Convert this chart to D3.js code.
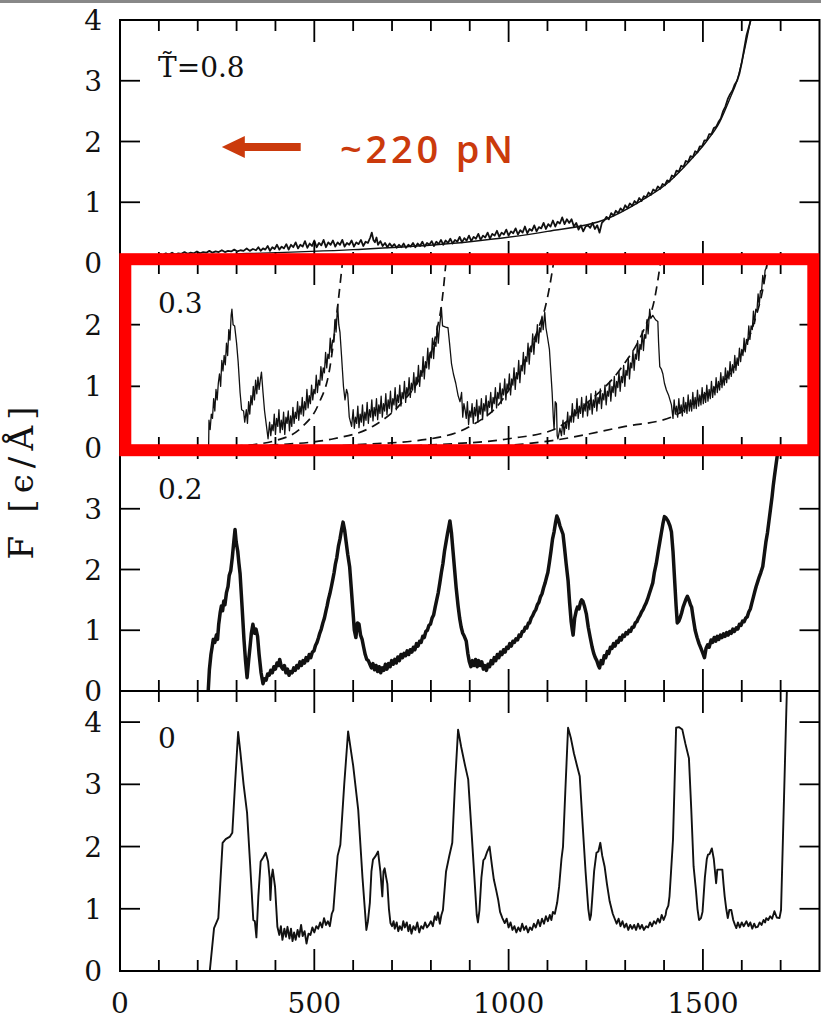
<!DOCTYPE html>
<html>
<head>
<meta charset="utf-8">
<script src="https://d3js.org/d3.v7.min.js"></script>
<style>
  html, body { margin: 0; padding: 0; background: #fff; }
  svg { display: block; }
</style>
</head>
<body>
<div id="chart"></div>
<script>
// ---- dados: x = extensao, v = forca F [eps/A] ----
const xMinorTicks = [100, 200, 300, 400, 600, 700, 800, 900, 1100, 1200, 1300, 1400, 1600, 1700];
const xMajorTicks = [0, 500, 1000, 1500];
const panelLabels = ['T\u0303=0.8', '0.3', '0.2', '0'];
const panelMax = [4, 3, 4, 4.5];
const yTickValues = [[1, 2, 3], [1, 2], [1, 2, 3], [1, 2, 3, 4]];
const yTickLabels = [[0, 1, 2, 3, 4], [0, 1, 2], [0, 1, 2, 3], [0, 1, 2, 3, 4]];

// T = 0.8 (ruidoso + ajuste suave)
const force08 = [[103,0.15],[110,0.13],[118,0.16],[126,0.14],[134,0.17],[142,0.14],[150,0.16],[158,0.15],[166,0.18],[174,0.15],[182,0.17],[190,0.16],[198,0.19],[206,0.16],[214,0.18],[222,0.17],[230,0.2],[238,0.17],[246,0.19],[254,0.18],[262,0.21],[270,0.18],[278,0.2],[286,0.19],[294,0.22],[302,0.19],[310,0.21],[318,0.2],[326,0.24],[334,0.2],[342,0.23],[350,0.21],[356,0.26],[362,0.2],[368,0.24],[374,0.22],[380,0.28],[386,0.2],[392,0.26],[398,0.23],[404,0.3],[410,0.22],[416,0.27],[422,0.24],[428,0.31],[434,0.22],[440,0.3],[446,0.26],[452,0.34],[458,0.24],[464,0.3],[470,0.27],[476,0.36],[482,0.25],[488,0.32],[494,0.28],[500,0.37],[506,0.26],[512,0.33],[518,0.29],[524,0.38],[530,0.26],[536,0.34],[542,0.3],[548,0.37],[554,0.27],[560,0.34],[566,0.3],[572,0.38],[578,0.27],[584,0.33],[590,0.3],[596,0.37],[602,0.27],[608,0.34],[614,0.31],[620,0.38],[626,0.28],[632,0.35],[638,0.33],[644,0.42],[648,0.5],[652,0.38],[656,0.34],[660,0.42],[664,0.3],[670,0.36],[676,0.28],[682,0.33],[688,0.26],[694,0.32],[700,0.27],[706,0.31],[712,0.25],[718,0.3],[724,0.26],[730,0.32],[736,0.25],[742,0.3],[748,0.27],[754,0.33],[760,0.26],[766,0.32],[772,0.28],[778,0.35],[784,0.27],[790,0.33],[796,0.3],[802,0.36],[808,0.28],[814,0.35],[820,0.31],[826,0.38],[832,0.3],[838,0.37],[844,0.33],[850,0.4],[856,0.32],[862,0.38],[868,0.35],[874,0.43],[880,0.34],[886,0.41],[892,0.37],[898,0.45],[904,0.36],[910,0.43],[916,0.4],[922,0.48],[928,0.38],[934,0.45],[940,0.42],[946,0.5],[952,0.4],[958,0.48],[964,0.45],[970,0.53],[976,0.43],[982,0.5],[988,0.47],[994,0.55],[1000,0.45],[1006,0.52],[1012,0.49],[1018,0.57],[1024,0.47],[1030,0.54],[1036,0.5],[1042,0.6],[1048,0.49],[1054,0.56],[1060,0.53],[1066,0.62],[1072,0.52],[1078,0.59],[1084,0.57],[1090,0.66],[1096,0.56],[1102,0.64],[1108,0.6],[1114,0.7],[1120,0.6],[1126,0.68],[1132,0.65],[1138,0.75],[1144,0.64],[1150,0.72],[1156,0.66],[1162,0.72],[1168,0.6],[1174,0.66],[1180,0.55],[1186,0.62],[1192,0.52],[1198,0.6],
  [1204,0.62],[1210,0.58],[1216,0.66],[1222,0.56],[1228,0.62],[1234,0.5],[1240,0.66],[1246,0.7],[1252,0.76],[1258,0.72],[1264,0.82],[1270,0.78],[1276,0.86],[1282,0.82],[1288,0.9],[1294,0.86],[1300,0.95],[1306,0.9],[1312,0.98],[1318,0.94],[1324,1.02],[1330,0.98],[1336,1.07],[1342,1.02],[1348,1.1],[1354,1.08],[1360,1.16],[1366,1.12],[1372,1.21],[1378,1.18],[1384,1.26],[1390,1.22],[1396,1.3],[1402,1.28],[1408,1.36],[1414,1.34],[1420,1.44],[1426,1.42],[1432,1.52],[1438,1.5],[1444,1.6],[1450,1.58],[1456,1.68],[1462,1.66],[1468,1.76],[1474,1.74],[1480,1.84],[1486,1.82],[1492,1.92],[1498,1.92],[1504,2.02],[1510,2.02],[1516,2.12],[1522,2.12],[1528,2.22],[1534,2.24],[1540,2.32],[1546,2.38],[1552,2.5],[1558,2.58],[1564,2.7],[1570,2.78],[1576,2.84],[1582,2.94],[1588,3.0],[1594,3.12],[1600,3.3],[1606,3.52],[1612,3.74],[1618,3.88],[1624,4.02],[1630,4.2]];
const fit08 = [[300,0.15],[600,0.22],[900,0.35],[1100,0.52],[1250,0.72],[1340,1.02],[1406,1.3],[1466,1.68],[1509,2.0],[1543,2.32],[1569,2.7],[1590,3.05],[1605,3.45],[1618,3.85],[1626,4.1]];

// T = 0.3 (ruidoso + ajustes WLC tracejados)
const force03 = [[228,0],[229,0.45],[232,0.3],[235,0.55],[238,0.48],[241,0.8],[244,0.6],[247,0.95],[250,0.78],[253,1.05],[256,1.2],[259,1.0],[262,1.42],[265,1.25],[268,1.5],[271,1.35],[274,1.7],[277,1.5],[280,1.92],[283,1.75],[286,2.15],[288,2.25],[291,2.0],[295,1.98],
  [300,1.7],[304,1.4],[309,0.9],[313,0.62],[318,0.6],[321,0.42],
  [325,0.62],[328,0.4],[331,0.75],[334,0.55],[337,0.85],[340,0.7],[343,1.0],[346,0.78],[349,1.1],[352,0.88],[355,1.15],[358,0.95],[361,1.1],[364,1.23],[368,0.9],[372,0.6],[377,0.35],[381,0.15],
  [385,0.42],[388,0.2],[391,0.38],[394,0.28],[397,0.55],[400,0.22],[403,0.48],[406,0.35],[409,0.62],[412,0.25],[415,0.45],[418,0.3],[421,0.58],[424,0.22],[427,0.5],[430,0.4],[433,0.6],[436,0.28],[439,0.52],[442,0.35],[445,0.66],[448,0.4],[451,0.58],[454,0.48],[457,0.75],[460,0.45],[463,0.68],[466,0.55],[469,0.82],[472,0.52],[475,0.75],[478,0.62],[481,0.95],[484,0.65],[487,0.85],[490,0.72],[493,1.02],[496,0.78],[499,0.95],[502,0.88],[505,1.18],[508,0.9],[511,1.1],[514,1.02],[517,1.32],[520,1.1],[523,1.3],[526,1.22],[529,1.55],[532,1.3],[535,1.52],[538,1.45],[541,1.78],[544,1.55],[547,1.75],[550,1.72],[553,2.08],[556,1.88],[560,2.32],
  [563,2.0],[566,1.88],[570,1.5],[575,1.0],[579,0.78],[583,0.95],[586,0.88],[590,0.5],[596,0.35],
  [600,0.62],[603,0.32],[606,0.5],[609,0.4],[612,0.68],[615,0.33],[618,0.55],[621,0.42],[624,0.7],[627,0.36],[630,0.58],[633,0.45],[636,0.74],[639,0.4],[642,0.62],[645,0.5],[648,0.78],[651,0.44],[654,0.66],[657,0.52],[660,0.8],[663,0.46],[666,0.7],[669,0.56],[672,0.84],[675,0.5],[678,0.72],[681,0.6],[684,0.88],[687,0.54],[690,0.78],[693,0.64],[696,0.92],[699,0.58],[702,0.8],[705,0.7],[708,0.98],[711,0.62],[714,0.86],[717,0.74],[720,1.02],[723,0.68],[726,0.9],[729,0.8],[732,1.08],[735,0.74],[738,0.98],[741,0.86],[744,1.14],[747,0.82],[750,1.05],[753,0.94],[756,1.22],[759,0.9],[762,1.15],[765,1.04],[768,1.34],[771,1.0],[774,1.26],[777,1.16],[780,1.48],[783,1.12],[786,1.4],[789,1.3],[792,1.62],[795,1.28],[798,1.55],[801,1.46],[804,1.78],[807,1.45],[810,1.72],[813,1.65],[816,1.98],[819,1.7],[822,1.95],[825,2.12],[827,2.28],
  [830,1.98],[838,1.96],[844,1.95],[848,1.7],[853,1.37],[858,1.2],[864,1.05],[870,0.85],[875,0.75],
  [879,0.9],[882,0.5],[885,0.72],[888,0.62],[891,0.48],[894,0.75],[897,0.38],[900,0.6],[903,0.5],[906,0.72],[909,0.4],[912,0.66],[915,0.52],[918,0.78],[921,0.42],[924,0.68],[927,0.55],[930,0.8],[933,0.46],[936,0.72],[939,0.6],[942,0.85],[945,0.52],[948,0.76],[951,0.66],[954,0.9],[957,0.58],[960,0.82],[963,0.72],[966,0.98],[969,0.65],[972,0.9],[975,0.8],[978,1.05],[981,0.72],[984,0.96],[987,0.86],[990,1.12],[993,0.78],[996,1.04],[999,0.94],[1002,1.2],[1005,0.86],[1008,1.12],[1011,1.02],[1014,1.3],[1017,0.95],[1020,1.22],[1023,1.12],[1026,1.42],[1029,1.06],[1032,1.34],[1035,1.25],[1038,1.55],[1041,1.2],[1044,1.48],[1047,1.4],[1050,1.7],[1053,1.36],[1056,1.64],[1059,1.56],[1062,1.85],[1065,1.52],[1068,1.8],[1071,1.72],[1074,2.0],[1077,1.7],[1080,1.95],[1083,1.88],[1086,2.14],[1089,1.92],[1093,2.2],
  [1096,1.95],[1100,1.8],[1105,1.6],[1109,1.2],[1112,0.9],[1115,0.5],[1117,0.3],[1120,0.75],[1123,0.72],[1125,0.2],[1127,0.15],[1132,0.32],[1136,0.2],
  [1140,0.45],[1143,0.22],[1146,0.4],[1149,0.32],[1152,0.58],[1155,0.3],[1158,0.52],[1161,0.42],[1164,0.72],[1167,0.42],[1170,0.62],[1173,0.52],[1176,0.8],[1179,0.48],[1182,0.68],[1185,0.56],[1188,0.82],[1191,0.5],[1194,0.72],[1197,0.6],[1200,0.84],[1203,0.52],[1206,0.74],[1209,0.62],[1212,0.88],[1215,0.55],[1218,0.78],[1221,0.66],[1224,0.92],[1227,0.6],[1230,0.82],[1233,0.72],[1236,0.96],[1239,0.64],[1242,0.88],[1245,0.78],[1248,1.02],[1251,0.7],[1254,0.92],[1257,0.84],[1260,1.08],[1263,0.76],[1266,1.0],[1269,0.9],[1272,1.16],[1275,0.84],[1278,1.08],[1281,0.98],[1284,1.24],[1287,0.92],[1290,1.16],[1293,1.06],[1296,1.34],[1299,1.0],[1302,1.26],[1305,1.18],[1308,1.46],[1311,1.12],[1314,1.38],[1317,1.3],[1320,1.58],[1323,1.26],[1326,1.52],[1329,1.44],[1332,1.74],[1335,1.42],[1338,1.68],[1341,1.6],[1344,1.9],[1347,1.58],[1350,1.84],[1353,1.78],[1356,2.08],[1359,1.85],[1363,2.25],
  [1366,2.1],[1371,2.15],[1378,2.08],[1384,2.05],[1386,1.7],[1389,1.32],[1393,1.28],[1397,1.2],[1401,1.05],[1406,0.94],[1412,0.85],[1419,0.7],
  [1423,0.48],[1426,0.78],[1429,0.55],[1432,0.68],[1435,0.5],[1438,0.8],[1441,0.56],[1444,0.7],[1447,0.52],[1450,0.82],[1453,0.58],[1456,0.74],[1459,0.56],[1462,0.86],[1465,0.6],[1468,0.78],[1471,0.6],[1474,0.9],[1477,0.64],[1480,0.82],[1483,0.64],[1486,0.94],[1489,0.68],[1492,0.86],[1495,0.7],[1498,0.98],[1501,0.72],[1504,0.9],[1507,0.74],[1510,1.02],[1513,0.76],[1516,0.95],[1519,0.8],[1522,1.08],[1525,0.82],[1528,1.0],[1531,0.86],[1534,1.14],[1537,0.9],[1540,1.08],[1543,0.94],[1546,1.22],[1549,0.98],[1552,1.16],[1555,1.02],[1558,1.3],[1561,1.06],[1564,1.25],[1567,1.12],[1570,1.4],[1573,1.16],[1576,1.35],[1579,1.22],[1582,1.5],[1585,1.26],[1588,1.46],[1591,1.34],[1594,1.62],[1597,1.4],[1600,1.6],[1603,1.5],[1606,1.78],[1609,1.56],[1612,1.76],[1615,1.68],[1618,1.98],[1621,1.76],[1624,1.98],[1627,1.92],[1630,2.22],[1633,2.02],[1636,2.25],[1639,2.22],[1642,2.5],[1645,2.32],[1648,2.55],[1651,2.55],[1654,2.8],[1657,2.66],[1660,2.88],[1663,2.92],[1666,3.05],[1669,3.2]];
const fit03A = [[215,0],[300,0.03],[400,0.12],[470,0.35],[510,0.7],[540,1.3],[560,2.29],[568,2.75],[574,3.1]];
const fit03B = [[230,0],[400,0.05],[550,0.15],[650,0.35],[720,0.7],[780,1.25],[815,1.9],[829,2.4],[840,3.1]];
const fit03C = [[380,0],[600,0.05],[800,0.15],[900,0.35],[980,0.75],[1040,1.4],[1080,2.0],[1093,2.25],[1105,2.6],[1118,3.1]];
const fit03D = [[600,0],[800,0.05],[1000,0.15],[1117,0.3],[1200,0.72],[1290,1.3],[1350,1.95],[1375,2.4],[1393,3.1]];
const fit03E = [[900,0],[1112,0.12],[1300,0.35],[1419,0.5],[1500,0.85],[1580,1.3],[1630,2.0],[1655,2.6],[1668,3.1]];

// T = 0.2
const force02 = [[227,0],[230,0.35],[234,0.6],[237,0.72],[240,0.85],[244,0.8],[248,0.92],[251,0.85],[254,1.1],[258,1.3],[261,1.4],[264,1.32],[267,1.48],[270,1.42],[274,1.62],[278,1.72],[281,1.9],[285,1.98],[289,2.2],[292,2.4],[296,2.66],[299,2.45],[303,2.3],[306,2.1],[309,1.93],[314,1.4],[319,0.85],[323,0.5],[327,0.22],[331,0.5],[335,0.75],[338,0.95],[342,1.1],[346,0.95],[350,1.02],[354,0.9],[358,0.6],[363,0.3],[368,0.12],[372,0.2],[376,0.18],[380,0.28],[384,0.26],[388,0.34],[392,0.3],[396,0.4],[400,0.36],[404,0.46],[408,0.42],[411,0.52],[415,0.4],[419,0.36],[423,0.42],[427,0.3],[431,0.36],[435,0.26],[439,0.32],[443,0.3],[447,0.38],[451,0.34],[455,0.42],[459,0.38],[463,0.48],[467,0.42],[471,0.5],[475,0.46],[479,0.55],[483,0.5],[487,0.6],[491,0.55],[495,0.64],[499,0.66],[503,0.75],[507,0.8],[511,0.88],[514,0.95],[518,1.02],[522,1.12],[526,1.2],[530,1.32],[533,1.4],[536,1.5],[540,1.6],[544,1.72],[548,1.85],[551,1.95],[554,2.08],[558,2.2],[562,2.38],[566,2.5],[570,2.65],[574,2.78],[578,2.65],[582,2.45],[586,2.25],[591,2.04],[595,1.7],[599,1.35],[603,1.0],[607,0.88],[611,1.12],[615,1.1],[619,0.92],[623,0.85],[627,0.72],[631,0.6],[635,0.52],[639,0.5],[643,0.44],[647,0.38],[651,0.45],[655,0.35],[659,0.42],[663,0.32],[667,0.4],[671,0.3],[675,0.38],[679,0.34],[683,0.44],[687,0.36],[691,0.45],[695,0.4],[699,0.5],[703,0.44],[707,0.52],[711,0.46],[715,0.56],[719,0.5],[723,0.6],[727,0.55],[731,0.62],[735,0.58],[739,0.66],[743,0.6],[747,0.68],[751,0.64],[755,0.72],[759,0.68],[763,0.78],[767,0.74],[771,0.82],[775,0.8],[779,0.9],[783,0.88],[787,0.98],[791,1.0],[795,1.08],[799,1.1],[803,1.2],[807,1.25],[811,1.38],[815,1.5],[819,1.62],[823,1.78],[827,1.95],[831,2.1],[835,2.3],[839,2.45],[843,2.6],[846,2.7],[849,2.8],[853,2.6],[857,2.3],[861,2.0],[865,1.7],[870,1.4],[874,1.2],[878,1.05],[882,0.95],[886,0.9],[891,0.82],[895,0.62],[899,0.48],[903,0.4],[907,0.5],[911,0.42],[915,0.52],[919,0.4],[923,0.5],[927,0.42],[931,0.48],[935,0.36],[939,0.42],[943,0.34],[947,0.44],[951,0.4],[955,0.5],[959,0.45],[963,0.55],[967,0.5],[971,0.6],[975,0.55],[979,0.64],[983,0.6],[987,0.68],[991,0.64],[995,0.72],[999,0.7],[1003,0.78],[1007,0.74],[1011,0.82],[1015,0.8],[1019,0.86],[1023,0.84],[1027,0.92],[1031,0.9],[1035,0.98],[1039,0.98],[1043,1.05],[1047,1.04],[1051,1.12],[1054,1.12],[1058,1.2],[1062,1.24],[1066,1.3],[1070,1.34],[1074,1.42],[1078,1.46],[1082,1.55],[1086,1.6],[1090,1.7],[1094,1.78],[1098,1.88],[1101,1.95],[1105,2.12],[1109,2.3],[1113,2.5],[1117,2.62],[1121,2.78],[1124,2.88],[1128,2.82],[1132,2.72],[1136,2.65],[1140,2.58],[1144,2.35],[1148,2.1],[1153,1.82],[1157,1.45],[1161,1.14],[1164,1.0],[1166,0.92],[1170,1.2],[1174,1.32],[1177,1.38],[1181,1.35],[1185,1.46],[1188,1.5],[1191,1.48],[1195,1.4],[1200,1.27],[1205,1.05],[1210,0.88],[1215,0.72],[1219,0.62],[1223,0.55],[1227,0.5],[1231,0.42],[1234,0.38],[1238,0.5],[1242,0.45],[1246,0.58],[1250,0.55],[1254,0.65],[1258,0.62],[1262,0.72],[1266,0.7],[1270,0.78],[1274,0.74],[1278,0.82],[1282,0.8],[1286,0.88],[1290,0.84],[1294,0.92],[1298,0.9],[1302,0.96],[1306,0.94],[1310,1.0],[1314,0.98],[1318,1.05],[1322,1.05],[1326,1.12],[1330,1.14],[1334,1.2],[1338,1.24],[1342,1.3],[1346,1.34],[1350,1.4],[1354,1.45],[1358,1.52],[1362,1.6],[1366,1.68],[1371,1.78],[1375,1.95],[1380,2.1],[1385,2.3],[1389,2.45],[1393,2.6],[1397,2.75],[1401,2.87],[1405,2.85],[1410,2.8],[1415,2.72],[1419,2.62],[1423,2.3],[1427,1.85],[1431,1.4],[1434,1.12],[1438,1.15],[1441,1.2],[1445,1.28],[1449,1.38],[1453,1.45],[1457,1.52],[1460,1.56],[1464,1.5],[1468,1.42],[1471,1.38],[1475,1.2],[1480,1.0],[1485,0.88],[1490,0.78],[1495,0.7],[1500,0.62],[1504,0.55],[1508,0.7],[1512,0.76],[1516,0.72],[1521,0.84],[1525,0.8],[1529,0.88],[1533,0.82],[1537,0.9],[1541,0.85],[1545,0.92],[1549,0.88],[1553,0.94],[1557,0.9],[1561,0.96],[1565,0.92],[1569,0.98],[1573,0.95],[1577,1.02],[1581,0.98],[1586,1.04],[1590,1.02],[1594,1.1],[1598,1.08],[1602,1.15],[1606,1.14],[1610,1.2],[1614,1.22],[1618,1.3],[1622,1.35],[1626,1.45],[1630,1.55],[1634,1.65],[1637,1.72],[1641,1.8],[1645,1.88],[1649,1.95],[1654,2.05],[1658,2.25],[1662,2.45],[1666,2.6],[1670,2.8],[1674,3.0],[1678,3.2],[1681,3.38],[1684,3.53],[1688,3.72],[1691,3.86],[1694,4.0],[1697,4.2]];

// T = 0
const force00 = [[231,0],[242,0.69],[253,0.85],[258,1.4],[264,2.06],[272,2.12],[283,2.16],[289,2.22],[296,3.0],[304,3.84],[310,3.5],[318,3.0],[327,2.54],[335,1.7],[343,0.82],[347,0.8],[351,0.54],[356,1.2],[362,1.76],[368,1.82],[375,1.9],[381,1.76],[385,1.5],[387,1.14],[390,1.5],[393,1.63],[399,1.35],[405,0.71],[410,0.58],[414,0.72],[418,0.5],[423,0.68],[427,0.55],[431,0.71],[436,0.52],[440,0.68],[444,0.48],[448,0.62],[452,0.5],[457,0.66],[461,0.55],[466,0.74],[470,0.56],[475,0.64],[480,0.44],[485,0.6],[490,0.58],[495,0.7],[500,0.62],[505,0.72],[510,0.68],[515,0.78],[520,0.7],[525,0.85],[530,0.74],[535,0.8],[540,0.72],[545,0.92],[549,0.98],[555,1.47],[560,1.85],[567,2.03],[577,3.0],[587,3.85],[600,3.3],[613,2.59],[624,1.5],[634,0.66],[638,0.8],[643,1.1],[647,1.6],[651,1.79],[658,1.85],[664,1.92],[670,1.6],[675,1.2],[678,1.6],[681,1.65],[685,1.5],[688,1.4],[692,1.0],[696,0.77],[700,0.72],[704,0.8],[707,0.68],[712,0.78],[716,0.64],[720,0.72],[725,0.66],[729,0.8],[733,0.7],[738,0.78],[742,0.64],[746,0.74],[750,0.6],[755,0.72],[760,0.66],[765,0.78],[770,0.62],[775,0.72],[780,0.68],[785,0.78],[790,0.7],[795,0.74],[800,0.8],[805,0.72],[810,0.88],[814,0.82],[818,0.94],[823,0.76],[827,0.9],[831,0.98],[839,1.6],[847,1.84],[855,2.06],[862,3.0],[870,3.88],[878,3.6],[888,3.3],[896,3.08],[905,2.2],[913,1.4],[918,0.9],[921,0.78],[925,0.98],[930,1.5],[935,1.78],[939,1.81],[945,1.92],[951,2.0],[957,1.7],[962,1.47],[968,1.3],[973,1.15],[978,0.95],[984,0.85],[990,0.77],[995,0.84],[1000,0.7],[1005,0.78],[1010,0.66],[1015,0.72],[1020,0.62],[1025,0.7],[1030,0.64],[1035,0.76],[1040,0.66],[1045,0.72],[1050,0.62],[1055,0.7],[1060,0.66],[1065,0.76],[1070,0.7],[1076,0.82],[1081,0.72],[1086,0.84],[1091,0.76],[1096,0.88],[1101,0.8],[1106,0.9],[1110,0.82],[1114,0.95],[1119,0.92],[1125,1.1],[1130,1.36],[1136,1.8],[1140,2.0],[1146,2.9],[1153,3.91],[1160,3.75],[1168,3.5],[1176,3.3],[1183,3.13],[1190,2.4],[1198,1.6],[1205,1.0],[1209,0.82],[1212,0.9],[1215,1.15],[1220,1.6],[1226,1.9],[1231,1.92],[1236,2.06],[1241,1.85],[1247,1.68],[1253,1.4],[1260,1.12],[1268,0.92],[1273,0.84],[1278,0.76],[1283,0.84],[1288,0.72],[1293,0.8],[1298,0.7],[1303,0.76],[1308,0.66],[1313,0.74],[1318,0.68],[1323,0.74],[1328,0.66],[1333,0.76],[1338,0.68],[1343,0.74],[1348,0.66],[1354,0.72],[1359,0.7],[1364,0.78],[1369,0.72],[1374,0.8],[1379,0.76],[1384,0.84],[1389,0.78],[1394,0.9],[1399,0.82],[1404,0.9],[1406,0.98],[1411,1.05],[1414,1.2],[1418,1.6],[1423,2.11],[1427,3.0],[1431,3.91],[1438,3.92],[1447,3.88],[1455,3.65],[1464,3.42],[1470,2.6],[1476,1.68],[1482,1.3],[1486,1.0],[1490,0.82],[1495,0.85],[1499,0.95],[1505,1.5],[1510,1.8],[1513,1.87],[1517,1.88],[1523,1.97],[1528,1.8],[1534,1.41],[1537,1.63],[1543,1.63],[1550,1.63],[1553,1.4],[1556,1.2],[1560,1.0],[1564,0.85],[1568,0.98],[1573,0.98],[1578,0.82],[1582,0.75],[1586,0.69],[1590,0.78],[1595,0.7],[1600,0.78],[1605,0.72],[1612,0.8],[1617,0.72],[1622,0.78],[1627,0.68],[1632,0.76],[1636,0.7],[1641,0.71],[1646,0.78],[1651,0.74],[1656,0.82],[1660,0.78],[1663,0.85],[1668,0.82],[1673,0.88],[1678,0.84],[1684,0.96],[1690,0.86],[1697,0.85],[1701,0.98],[1716,4.5],[1718,4.8]];

// anotacao (coordenadas de dados do painel T=0.8)
const arrowFrom = [465, 1.91];
const arrowTo = [262, 1.91];
const noteAt = [566, 1.65];
const noteText = '~220 pN';

(function () {
  const W = 821, H = 1023;
  const LEFT = 120, RIGHT = 819.5;
  const SERIF = '"DejaVu Serif", serif';
  const NOTE_COLOR = '#cb3a0c';

  const svg = d3.select('#chart').append('svg')
    .attr('width', W).attr('height', H)
    .attr('viewBox', `0 0 ${W} ${H}`);
  svg.append('rect').attr('width', W).attr('height', H).attr('fill', '#fff');
  // barra cinza no topo
  svg.append('rect').attr('x', 0).attr('y', 0).attr('width', W).attr('height', 3).attr('fill', '#888');

  const x = d3.scaleLinear().domain([0, 1800]).range([LEFT, RIGHT]);

  // limites verticais de cada painel (px)
  const bounds = [[20, 263], [263, 448], [448, 691], [691, 971]];
  const panels = bounds.map(([top, bottom], i) => ({
    top, bottom,
    y: d3.scaleLinear().domain([0, panelMax[i]]).range([bottom, top]),
  }));

  const defs = svg.append('defs');
  panels.forEach((p, i) => {
    defs.append('clipPath').attr('id', 'clip' + i)
      .append('rect').attr('x', LEFT).attr('y', p.top)
      .attr('width', RIGHT - LEFT).attr('height', p.bottom - p.top);
  });

  const lineFor = (p, curve) => d3.line()
    .x((d) => x(d[0])).y((d) => p.y(d[1]))
    .curve(curve || d3.curveLinear);

  function drawSeries(i, data, opts) {
    const p = panels[i];
    svg.append('g').attr('clip-path', `url(#clip${i})`)
      .append('path').datum(data)
      .attr('d', lineFor(p, opts.curve))
      .attr('fill', 'none').attr('stroke', '#111')
      .attr('stroke-width', opts.width)
      .attr('stroke-linejoin', 'round')
      .attr('stroke-dasharray', opts.dash || null);
  }

  // ---- curvas ----
  drawSeries(0, fit08, { width: 1.4, curve: d3.curveMonotoneX });
  drawSeries(0, force08, { width: 1.8 });
  [fit03A, fit03B, fit03C, fit03D, fit03E].forEach((f) =>
    drawSeries(1, f, { width: 1.7, dash: '9,6', curve: d3.curveMonotoneX }));
  drawSeries(1, force03, { width: 1.3 });
  drawSeries(2, force02, { width: 3.5 });
  drawSeries(3, force00, { width: 1.9 });

  // ---- moldura, separadores e ticks ----
  const axes = svg.append('g').attr('stroke', '#000').attr('fill', 'none');
  axes.append('rect').attr('x', LEFT).attr('y', 20)
    .attr('width', RIGHT - LEFT).attr('height', 971 - 20).attr('stroke-width', 2);
  panels.slice(1).forEach((p) => {
    axes.append('line').attr('x1', LEFT).attr('x2', RIGHT)
      .attr('y1', p.top).attr('y2', p.top).attr('stroke-width', 2);
  });

  panels.forEach((p, i) => {
    // ticks em x (dentro, topo e base de cada painel)
    const xt = [...xMinorTicks.map((v) => [v, 11]), ...xMajorTicks.slice(1).map((v) => [v, 22])];
    xt.forEach(([v, len]) => {
      axes.append('line').attr('x1', x(v)).attr('x2', x(v))
        .attr('y1', p.top).attr('y2', p.top + len).attr('stroke-width', 1.8);
      axes.append('line').attr('x1', x(v)).attr('x2', x(v))
        .attr('y1', p.bottom).attr('y2', p.bottom - len).attr('stroke-width', 1.8);
    });
    // ticks em y (esquerda e direita)
    yTickValues[i].forEach((v) => {
      axes.append('line').attr('x1', LEFT).attr('x2', LEFT + 20)
        .attr('y1', p.y(v)).attr('y2', p.y(v)).attr('stroke-width', 1.8);
      axes.append('line').attr('x1', RIGHT - 20).attr('x2', RIGHT)
        .attr('y1', p.y(v)).attr('y2', p.y(v)).attr('stroke-width', 1.8);
    });
    // rotulos em y
    svg.append('g').selectAll('text').data(yTickLabels[i]).join('text')
      .attr('x', 102).attr('y', (d) => p.y(d))
      .attr('dy', '0.36em')
      .attr('text-anchor', 'end')
      .attr('font-family', SERIF).attr('font-size', 28).attr('fill', '#111')
      .text((d) => d);
  });

  // rotulos em x
  svg.append('g').selectAll('text').data(xMajorTicks).join('text')
    .attr('x', (d) => x(d)).attr('y', 1013)
    .attr('text-anchor', 'middle')
    .attr('font-family', SERIF).attr('font-size', 28).attr('fill', '#111')
    .text((d) => d);

  // rotulos de temperatura em cada painel
  const labelBase = [77, 313, 499, 748];
  panels.forEach((p, i) => {
    svg.append('text').attr('x', 158).attr('y', labelBase[i])
      .attr('font-family', SERIF).attr('font-size', 28).attr('fill', '#111')
      .text(panelLabels[i]);
  });

  // titulo do eixo y
  svg.append('text')
    .attr('transform', 'translate(33,483) rotate(-90)')
    .attr('text-anchor', 'middle')
    .attr('font-family', SERIF).attr('font-size', 34).attr('fill', '#111')
    .attr('textLength', 153).attr('lengthAdjust', 'spacing')
    .text('F [\u03F5/\u00C5]');

  // ---- anotacao: seta + texto ----
  const p0 = panels[0];
  const tx = x(arrowTo[0]), ax = x(arrowFrom[0]), ay = p0.y(arrowTo[1]);
  const head = 23;
  svg.append('path')
    .attr('d', `M${tx},${ay} L${tx + head},${ay - 11} L${tx + head},${ay - 4} L${ax},${ay - 4}`
      + ` L${ax},${ay + 4} L${tx + head},${ay + 4} L${tx + head},${ay + 11} Z`)
    .attr('fill', NOTE_COLOR);
  svg.append('text')
    .attr('x', x(noteAt[0])).attr('y', p0.y(noteAt[1]))
    .attr('font-family', '"Open Sans", Lato, sans-serif').attr('font-weight', 600)
    .attr('font-size', 38).attr('fill', NOTE_COLOR)
    .attr('textLength', 173).attr('lengthAdjust', 'spacing')
    .text(noteText);

  // ---- destaque: retangulo vermelho em volta do painel T=0.3 ----
  svg.append('rect')
    .attr('x', 125.3).attr('y', 259.2).attr('width', 688).attr('height', 191)
    .attr('fill', 'none').attr('stroke', '#ff0000').attr('stroke-width', 12);
})();
</script>
</body>
</html>
